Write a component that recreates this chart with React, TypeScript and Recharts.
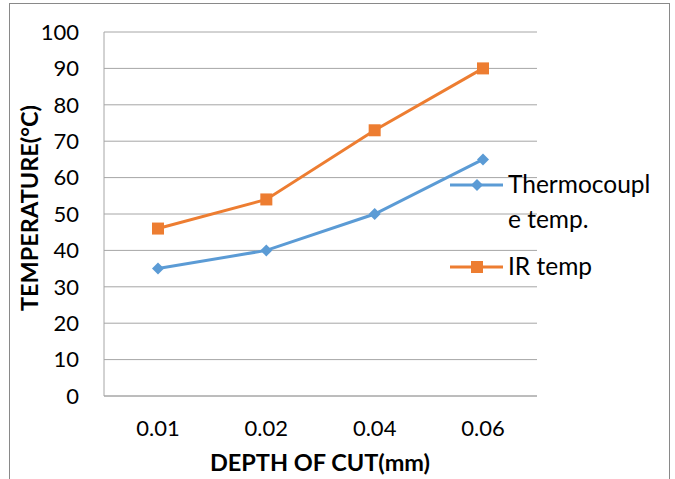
import { CartesianGrid, Label, Line, LineChart, XAxis, YAxis } from "recharts";

const depths = ["0.01", "0.02", "0.04", "0.06"];
const thermocouple = [35, 40, 50, 65];
const irTemp = [46, 54, 73, 90];
const yTicks = [0, 10, 20, 30, 40, 50, 60, 70, 80, 90, 100];

const BLUE = "#5B9BD5";
const ORANGE = "#ED7D31";
const FONT = "Lato, 'Open Sans', sans-serif";

const data = depths.map((d, i) => ({ depth: d, tc: thermocouple[i], ir: irTemp[i] }));

function Diamond({ cx, cy, color }: { cx: number; cy: number; color: string }) {
  const r = 6;
  return <path d={`M${cx},${cy - r}L${cx + r},${cy}L${cx},${cy + r}L${cx - r},${cy}Z`} fill={color} />;
}

function Square({ cx, cy, color }: { cx: number; cy: number; color: string }) {
  const s = 6;
  return <rect x={cx - s} y={cy - s} width={s * 2} height={s * 2} fill={color} />;
}

// legend sits over the plot on the right, as in the original
function LegendBox() {
  return (
    <svg width={230} height={130} style={{ position: "absolute", left: 440, top: 165 }}>
      <line x1={10} x2={63} y1={20} y2={20} stroke={BLUE} strokeWidth={3} />
      <Diamond cx={37} cy={20} color={BLUE} />
      <text x={68} y={28} fontSize={24.5} fontFamily={FONT} fill="#000">
        <tspan x={68}>Thermocoupl</tspan>
        <tspan x={68} dy={35}>e temp.</tspan>
      </text>
      <line x1={10} x2={63} y1={102} y2={102} stroke={ORANGE} strokeWidth={3} />
      <Square cx={37} cy={102} color={ORANGE} />
      <text x={68} y={110} fontSize={24.5} fontFamily={FONT} fill="#000">
        IR temp
      </text>
    </svg>
  );
}

export default function App() {
  return (
    <div style={{ position: "absolute", left: 0, top: 0, width: 675, height: 479, background: "#fff", overflow: "hidden" }}>
      <div
        style={{
          position: "absolute",
          left: 9,
          top: 3,
          width: 661,
          height: 490,
          border: "1px solid #898989",
          boxSizing: "border-box",
        }}
      />
      <LineChart
        width={675}
        height={479}
        data={data}
        margin={{ top: 32, right: 138, bottom: 43, left: 40 }}
        style={{ position: "absolute", left: 0, top: 0 }}
      >
        <CartesianGrid vertical={false} stroke="#a6a6a6" strokeWidth={1} />
        <XAxis
          dataKey="depth"
          padding={{ left: 54, right: 54 }}
          axisLine={{ stroke: "#a6a6a6" }}
          tickLine={false}
          tickSize={0}
          tickMargin={24}
          height={40}
          tick={{ fontSize: 22, fill: "#000", fontFamily: FONT }}
        >
          <Label
            content={() => (
              <text x={320} y={471} textAnchor="middle" fontSize={23.5} fontWeight="bold" fontFamily={FONT} fill="#000">
                DEPTH OF CUT(mm)
              </text>
            )}
          />
        </XAxis>
        <YAxis
          domain={[0, 100]}
          ticks={yTicks}
          interval={0}
          width={64}
          axisLine={{ stroke: "#a6a6a6" }}
          tickLine={false}
          tickSize={0}
          tickMargin={25}
          tick={{ fontSize: 22, fill: "#000", fontFamily: FONT }}
        >
          <Label
            content={() => (
              <text
                x={38}
                y={208}
                transform="rotate(-90 38 208)"
                textAnchor="middle"
                fontSize={23.5}
                fontWeight="bold"
                fontFamily={FONT}
                fill="#000"
              >
                TEMPERATURE(°C)
              </text>
            )}
          />
        </YAxis>
        <Line
          dataKey="tc"
          name="Thermocouple temp."
          stroke={BLUE}
          strokeWidth={3}
          isAnimationActive={false}
          dot={(p: any) => <Diamond key={`tc-${p.index}`} cx={p.cx} cy={p.cy} color={BLUE} />}
          activeDot={false}
        />
        <Line
          dataKey="ir"
          name="IR temp"
          stroke={ORANGE}
          strokeWidth={3}
          isAnimationActive={false}
          dot={(p: any) => <Square key={`ir-${p.index}`} cx={p.cx} cy={p.cy} color={ORANGE} />}
          activeDot={false}
        />
      </LineChart>
      <LegendBox />
    </div>
  );
}
